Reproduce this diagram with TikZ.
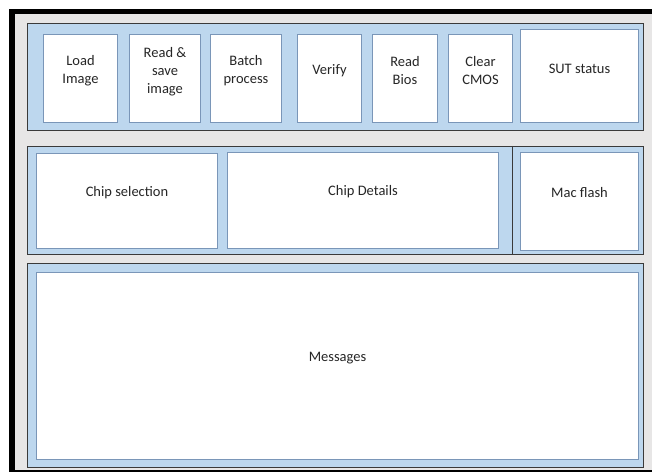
\documentclass[tikz,border=0pt]{standalone}
\usepackage{fontspec}
\setmainfont{Carlito}
\definecolor{framegray}{HTML}{E7E6E6}
\definecolor{panelblue}{HTML}{BDD7EE}
\definecolor{panelline}{HTML}{3A3A3A}
\definecolor{boxline}{HTML}{7A96B8}
\definecolor{txt}{HTML}{262626}
\tikzset{
  panel/.style={draw=panelline, fill=panelblue, line width=1.1pt, anchor=north west, inner sep=0pt},
  tile/.style={draw=boxline, fill=white, line width=1pt, anchor=north west, inner sep=0pt},
  caption/.style={text=txt, align=center, font=\fontsize{14.5}{18}\selectfont, inner sep=0pt},
}
% place a box from its top-left corner with a given width and height
\newcommand{\tilebox}[6]{\node[#1, minimum width=#4pt, minimum height=#5pt] (#6) at (#2,#3) {};}
\begin{document}
\begin{tikzpicture}[x=1pt, y=-1pt]
\useasboundingbox (0,0) rectangle (652,473);
% window frame
\fill[white] (0,0) rectangle (652,473);
\fill[black] (9,9) rectangle (660,472);
\fill[framegray] (15,14) rectangle (660,470);

% toolbar panel
\tilebox{panel}{27}{23}{616}{107}{toolbar}
\tilebox{tile}{43}{34}{74}{88}{load}
\tilebox{tile}{129}{34}{71}{88}{readsave}
\tilebox{tile}{210}{34}{71}{88}{batch}
\tilebox{tile}{297}{34}{64}{88}{verify}
\tilebox{tile}{372}{34}{65}{88}{readbios}
\tilebox{tile}{448}{34}{64}{88}{clearcmos}
\tilebox{tile}{520}{29}{118}{93}{sut}

\node[caption] (t-load) at (load.center |- 0,71) {Load\\Image};
\node[caption] (t-readsave) at (readsave.center |- 0,72) {Read \&\\save\\image};
\node[caption] (t-batch) at (batch.center |- 0,70.5) {Batch\\process};
\node[caption] (t-verify) at (verify.center |- 0,71) {Verify};
\node[caption] (t-readbios) at (readbios.center |- 0,70.5) {Read\\Bios};
\node[caption] (t-clearcmos) at (clearcmos.center |- 0,70.5) {Clear\\CMOS};
\node[caption] (t-sut) at (sut.center |- 0,69) {SUT status};

% chip panel
\tilebox{panel}{27}{146}{616}{108}{chippanel}
\coordinate (div-top) at (512.5,146);
\coordinate (div-bot) at (512.5,254);
\draw[panelline, line width=1.1pt] (div-top) -- (div-bot);
\tilebox{tile}{36}{153}{181}{95}{chipsel}
\tilebox{tile}{227}{152}{271}{96}{chipdet}
\tilebox{tile}{520}{152}{118}{98}{macflash}

\node[caption] (t-chipsel) at (chipsel.center |- 0,193) {Chip selection};
\node[caption] (t-chipdet) at (chipdet.center |- 0,192) {Chip Details};
\node[caption] (t-macflash) at (macflash.center |- 0,193) {Mac flash};

% message panel
\tilebox{panel}{27}{263}{616}{204}{msgpanel}
\tilebox{tile}{36}{272}{602}{187}{messages}
\node[caption] (t-messages) at (messages.center |- 0,358) {Messages};
\end{tikzpicture}
\end{document}
